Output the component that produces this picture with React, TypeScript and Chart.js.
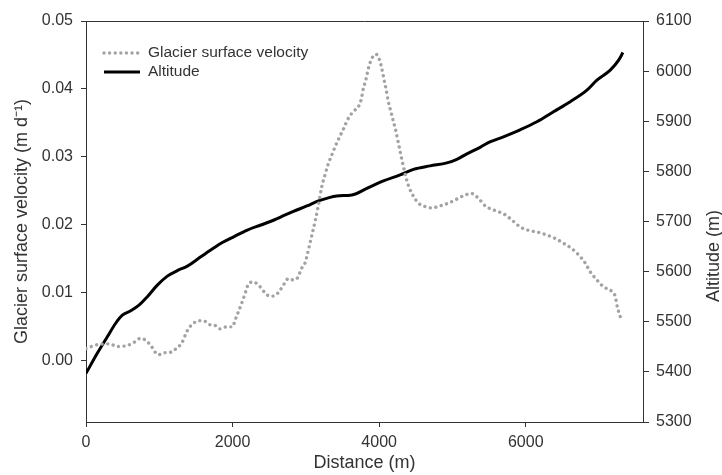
import React, { useEffect, useRef } from "react";
import { Chart, registerables } from "chart.js";

Chart.register(...registerables);

// Glacier surface velocity (m d^-1) along distance (m)
const velocityDistance = [
  0, 100, 164, 328, 419, 573, 669, 737, 805, 874, 987, 1078, 1170, 1238, 1306, 1351, 1396, 1465, 1533, 1601,
  1693, 1761, 1829, 1921, 2002, 2034, 2079, 2125, 2180, 2215, 2284, 2375, 2443, 2512, 2580, 2648, 2703, 2761,
  2830, 2898, 2931, 2989, 3012, 3034, 3080, 3126, 3171, 3217, 3262, 3307, 3354, 3399, 3458, 3512, 3580, 3649,
  3717, 3754, 3785, 3822, 3853, 3900, 3959, 4004, 4036, 4068, 4095, 4126, 4159, 4195, 4232, 4263, 4296, 4331,
  4368, 4413, 4468, 4536, 4627, 4719, 4832, 4945, 5060, 5173, 5265, 5355, 5446, 5560, 5719, 5833, 5924, 6037,
  6174, 6289, 6402, 6515, 6630, 6720, 6811, 6880, 6971, 7061, 7176, 7221, 7244, 7289,
];
const velocityValues = [
  0.0018, 0.0022, 0.0024, 0.0025, 0.0021, 0.0023, 0.0028, 0.0033, 0.0031, 0.0024, 0.0009, 0.0012, 0.0013,
  0.0019, 0.0026, 0.0037, 0.0047, 0.0055, 0.0059, 0.0059, 0.0053, 0.0052, 0.0047, 0.005, 0.005, 0.006, 0.0072,
  0.0085, 0.0102, 0.0113, 0.0116, 0.0109, 0.01, 0.0095, 0.0096, 0.0104, 0.0113, 0.0121, 0.0119, 0.0124, 0.0134,
  0.0144, 0.0153, 0.0163, 0.0184, 0.0205, 0.0229, 0.0256, 0.0274, 0.029, 0.0303, 0.0315, 0.0329, 0.0341,
  0.0357, 0.0367, 0.0374, 0.0384, 0.0401, 0.0415, 0.043, 0.0445, 0.0451, 0.0443, 0.043, 0.0413, 0.0399, 0.0381,
  0.0367, 0.0352, 0.0336, 0.032, 0.0303, 0.0286, 0.0269, 0.0254, 0.0242, 0.0232, 0.0227, 0.0225, 0.0228,
  0.0232, 0.0238, 0.0244, 0.0246, 0.0239, 0.0228, 0.0222, 0.0215, 0.0205, 0.0197, 0.0192, 0.0189, 0.0185,
  0.018, 0.0173, 0.0165, 0.0156, 0.0144, 0.0131, 0.0119, 0.0109, 0.0102, 0.0095, 0.0082, 0.0065,
];

// Altitude (m) along distance (m)
const altitudeDistance = [
  0, 154, 291, 405, 496, 610, 723, 837, 973, 1110, 1246, 1383, 1542, 1702, 1860, 2020, 2202, 2385, 2566, 2703,
  2830, 3013, 3171, 3422, 3627, 3832, 4058, 4286, 4468, 4696, 4924, 5060, 5197, 5378, 5470, 5696, 5924, 6152,
  6379, 6607, 6835, 6971, 7153, 7268, 7326,
];
const altitudeValues = [
  5397, 5437, 5470, 5497, 5513, 5522, 5533, 5550, 5573, 5591, 5602, 5611, 5627, 5643, 5658, 5670, 5683, 5693,
  5703, 5712, 5720, 5731, 5741, 5751, 5753, 5766, 5781, 5793, 5804, 5811, 5817, 5824, 5835, 5848, 5856, 5869,
  5883, 5899, 5919, 5939, 5962, 5982, 6002, 6022, 6037,
];

const xTicks = [0, 2000, 4000, 6000];
const velocityTicks = [0, 0.01, 0.02, 0.03, 0.04, 0.05];
const altitudeTicks = [5300, 5400, 5500, 5600, 5700, 5800, 5900, 6000, 6100];

const seriesNames = ["Glacier surface velocity", "Altitude"];
const xTitle = "Distance (m)";
const leftTitle = "Glacier surface velocity (m d\u207B\u00B9)";
const rightTitle = "Altitude (m)";

const FONT = "'Liberation Sans', Arial, sans-serif";
const AXIS_COLOR = "#333333";
const TEXT_COLOR = "#333333";
const VEL_COLOR = "#a3a3a3";

export default function App() {
  const ref = useRef<HTMLCanvasElement | null>(null);

  useEffect(() => {
    if (!ref.current) return;

    const decorations = {
      id: "decorations",
      afterDraw(chart: any) {
        const { ctx, chartArea } = chart;
        ctx.save();
        // frame top edge
        ctx.strokeStyle = AXIS_COLOR;
        ctx.lineWidth = 1;
        ctx.beginPath();
        ctx.moveTo(chartArea.left, chartArea.top + 0.5);
        ctx.lineTo(chartArea.right, chartArea.top + 0.5);
        ctx.stroke();
        // right axis title (reads bottom to top)
        ctx.fillStyle = TEXT_COLOR;
        ctx.font = `18px ${FONT}`;
        ctx.textAlign = "center";
        ctx.textBaseline = "middle";
        ctx.translate(714, 256);
        ctx.rotate(-Math.PI / 2);
        ctx.fillText(rightTitle, 0, 0);
        ctx.restore();

        // legend
        ctx.save();
        const rows = [
          { y: 53, name: seriesNames[0], ds: chart.data.datasets[0] },
          { y: 72, name: seriesNames[1], ds: chart.data.datasets[1] },
        ];
        rows.forEach((r) => {
          ctx.strokeStyle = r.ds.borderColor;
          ctx.lineWidth = r.ds.borderWidth;
          ctx.lineCap = r.ds.borderCapStyle || "butt";
          ctx.setLineDash(r.ds.borderDash || []);
          ctx.beginPath();
          ctx.moveTo(104, r.y);
          ctx.lineTo(140, r.y);
          ctx.stroke();
          ctx.setLineDash([]);
          ctx.fillStyle = TEXT_COLOR;
          ctx.font = `15.5px ${FONT}`;
          ctx.textAlign = "left";
          ctx.textBaseline = "middle";
          ctx.fillText(r.name, 148, r.y);
        });
        ctx.restore();
      },
    };

    const chart = new Chart(ref.current, {
      type: "line",
      data: {
        datasets: [
          {
            label: seriesNames[0],
            data: velocityDistance.map((d, i) => ({ x: d, y: velocityValues[i] })),
            yAxisID: "yV",
            borderColor: VEL_COLOR,
            borderWidth: 3.4,
            borderDash: [0.01, 5.6],
            borderCapStyle: "round",
            pointRadius: 0,
            cubicInterpolationMode: "monotone",
            fill: false,
          },
          {
            label: seriesNames[1],
            data: altitudeDistance.map((d, i) => ({ x: d, y: altitudeValues[i] })),
            yAxisID: "yA",
            borderColor: "#000000",
            borderWidth: 3,
            pointRadius: 0,
            cubicInterpolationMode: "monotone",
            fill: false,
          },
        ],
      },
      options: {
        animation: false,
        responsive: false,
        layout: { padding: { top: 21, left: 0, right: 0, bottom: 0 } },
        plugins: { legend: { display: false }, tooltip: { enabled: false } },
        scales: {
          x: {
            type: "linear",
            min: 0,
            max: 7600,
            afterBuildTicks: (s: any) => {
              s.ticks = xTicks.map((v) => ({ value: v }));
            },
            afterFit: (s: any) => {
              s.height = 53;
            },
            grid: { drawOnChartArea: false, drawTicks: true, tickLength: 5, color: AXIS_COLOR },
            border: { display: true, color: AXIS_COLOR, width: 1 },
            ticks: {
              color: TEXT_COLOR,
              font: { family: FONT, size: 16 },
              padding: 6,
              maxRotation: 0,
              callback: (v: any) => String(v),
            },
            title: {
              display: true,
              text: xTitle,
              color: TEXT_COLOR,
              font: { family: FONT, size: 18 },
              padding: { top: 0, bottom: 1 },
            },
          },
          yV: {
            type: "linear",
            position: "left",
            min: -0.009,
            max: 0.05,
            afterBuildTicks: (s: any) => {
              s.ticks = velocityTicks.map((v) => ({ value: v }));
            },
            afterFit: (s: any) => {
              s.width = 86;
            },
            grid: { drawOnChartArea: false, drawTicks: true, tickLength: 5, color: AXIS_COLOR },
            border: { display: true, color: AXIS_COLOR, width: 1 },
            ticks: {
              color: TEXT_COLOR,
              font: { family: FONT, size: 16 },
              padding: 8,
              callback: (v: any) => Number(v).toFixed(2),
            },
            title: {
              display: true,
              text: leftTitle,
              color: TEXT_COLOR,
              font: { family: FONT, size: 18 },
              padding: { top: 11, bottom: 0 },
            },
          },
          yA: {
            type: "linear",
            position: "right",
            min: 5300,
            max: 6100,
            afterBuildTicks: (s: any) => {
              s.ticks = altitudeTicks.map((v) => ({ value: v }));
            },
            afterFit: (s: any) => {
              s.width = 79;
            },
            grid: { drawOnChartArea: false, drawTicks: true, tickLength: 6, color: AXIS_COLOR },
            border: { display: true, color: AXIS_COLOR, width: 1 },
            ticks: {
              color: TEXT_COLOR,
              font: { family: FONT, size: 16 },
              padding: 7,
              callback: (v: any) => String(v),
            },
          },
        },
      },
      plugins: [decorations],
    } as any);

    return () => chart.destroy();
  }, []);

  return (
    <div style={{ position: "fixed", left: 0, top: 0, width: 722, height: 475, background: "#fff" }}>
      <canvas ref={ref} width={722} height={475} />
    </div>
  );
}
